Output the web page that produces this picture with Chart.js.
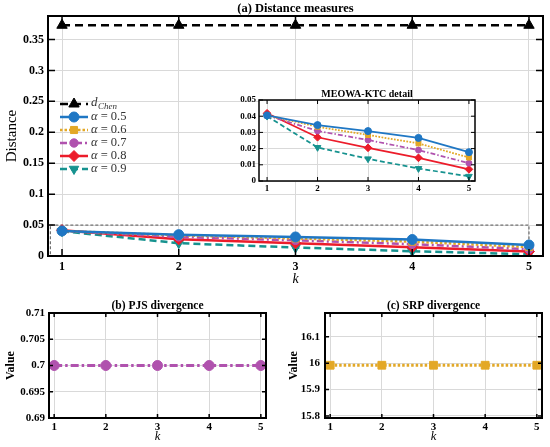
<!DOCTYPE html>
<html>
<head>
<meta charset="utf-8">
<script src="https://cdn.jsdelivr.net/npm/chart.js@4.4.1/dist/chart.umd.min.js"></script>
<style>
html,body{margin:0;padding:0;background:#fff;}
body{width:550px;height:447px;position:relative;overflow:hidden;}
.box{position:absolute;}
</style>
</head>
<body>
<div class="box" style="left:0;top:0;width:550px;height:290px"><canvas id="mainChart"></canvas></div>
<div class="box" style="left:220px;top:84px;width:262px;height:112px"><canvas id="insetChart"></canvas></div>
<div class="box" style="left:0;top:290px;width:275px;height:157px"><canvas id="pjsChart"></canvas></div>
<div class="box" style="left:275px;top:290px;width:275px;height:157px"><canvas id="srpChart"></canvas></div>
<script>
// ---------------- DATA ----------------
const kValues = [1, 2, 3, 4, 5];
const dChen   = [0.373, 0.373, 0.373, 0.373, 0.373];
const alpha05 = [0.0405, 0.0345, 0.0308, 0.0266, 0.0178];
const alpha06 = [0.0405, 0.0335, 0.0284, 0.0232, 0.0145];
const alpha07 = [0.0405, 0.0309, 0.0253, 0.0191, 0.0110];
const alpha08 = [0.0418, 0.0270, 0.0205, 0.0143, 0.0072];
const alpha09 = [0.0400, 0.0207, 0.0137, 0.0077, 0.0029];
const pjsValues = [0.7, 0.7, 0.7, 0.7, 0.7];
const srpValues = [15.992, 15.992, 15.992, 15.992, 15.992];

const alphaLabels = ['0.5', '0.6', '0.7', '0.8', '0.9'];
const mainYTicks  = [0, 0.05, 0.1, 0.15, 0.2, 0.25, 0.3, 0.35];
const insetYTicks = [0, 0.01, 0.02, 0.03, 0.04, 0.05];
const pjsYTicks   = [0.69, 0.695, 0.7, 0.705, 0.71];
const srpYTicks   = [15.8, 15.9, 16, 16.1];

const mainTitle  = '(a) Distance measures';
const insetTitle = 'MEOWA-KTC detail';
const pjsTitle   = '(b) PJS divergence';
const srpTitle   = '(c) SRP divergence';
const mainYLabel = 'Distance';
const valueLabel = 'Value';
const kLabel     = 'k';

// ---------------- STYLES ----------------
const SERIF = "'Liberation Serif','DejaVu Serif','Times New Roman',serif";
Chart.defaults.font.family = SERIF;
Chart.defaults.color = '#000';

const chenStyle = {color:'#000000', dash:[8,5], point:'triangle', rot:0, r:6, lw:2.5};
const alphaStyles = [
  {color:'#1f77c4', dash:[],          point:'circle',   rot:0,   r:5,   lw:2.5},
  {color:'#e3a826', dash:[2.5,2],     point:'rect',     rot:0,   r:5,   lw:2.5},
  {color:'#b052ae', dash:[7,3,2,3],   point:'circle',   rot:0,   r:4.2, lw:2.5},
  {color:'#ec1c2a', dash:[],          point:'rectRot',  rot:0,   r:5.5, lw:2.5},
  {color:'#16928f', dash:[7,4],       point:'triangle', rot:180, r:5.5, lw:2.5}
];
const alphaSeries = [alpha05, alpha06, alpha07, alpha08, alpha09];

function makeDataset(values, st, s) {
  return {
    data: kValues.map((k, i) => ({x: k, y: values[i]})),
    borderColor: st.color, backgroundColor: st.color,
    borderWidth: st.lw * s, borderDash: st.dash.map(d => d * s),
    pointStyle: st.point, pointRotation: st.rot, pointRadius: st.r * s,
    pointBorderWidth: 1, pointBackgroundColor: st.color, pointBorderColor: st.color,
    pointHoverRadius: st.r * s, tension: 0, fill: false
  };
}
const fmt = v => String(+Number(v).toFixed(4));

// ---------------- PLUGINS ----------------
const framePlugin = {
  id: 'frame',
  beforeDraw(chart, args, o) {
    if (!o.fill) return;
    const a = chart.chartArea, ctx = chart.ctx;
    ctx.save(); ctx.fillStyle = '#fff';
    ctx.fillRect(a.left, a.top, a.right - a.left, a.bottom - a.top);
    ctx.restore();
  },
  afterDraw(chart, args, o) {
    const {ctx, chartArea: a, scales: {x, y}} = chart;
    ctx.save();
    ctx.setLineDash([]);
    ctx.strokeStyle = '#000';
    ctx.lineWidth = o.tickWidth;
    ctx.beginPath();
    x.ticks.forEach(t => {
      const p = x.getPixelForValue(t.value);
      ctx.moveTo(p, a.bottom); ctx.lineTo(p, a.bottom - o.tickLen);
      ctx.moveTo(p, a.top); ctx.lineTo(p, a.top + o.tickLen);
    });
    y.ticks.forEach(t => {
      const p = y.getPixelForValue(t.value);
      ctx.moveTo(a.left, p); ctx.lineTo(a.left + o.tickLen, p);
      ctx.moveTo(a.right, p); ctx.lineTo(a.right - o.tickLen, p);
    });
    ctx.stroke();
    ctx.lineWidth = o.borderWidth;
    ctx.strokeRect(a.left, a.top, a.right - a.left, a.bottom - a.top);
    ctx.restore();
  }
};

const panelTitlePlugin = {
  id: 'panelTitle',
  afterDraw(chart, args, o) {
    const {ctx, chartArea: a} = chart;
    ctx.save();
    ctx.font = o.font;
    ctx.fillStyle = '#000';
    ctx.textAlign = 'center';
    ctx.textBaseline = 'middle';
    ctx.fillText(o.text, (a.left + a.right) / 2, o.y);
    ctx.restore();
  }
};

const zoomBoxPlugin = {
  id: 'zoomBox',
  beforeDatasetsDraw(chart, args, o) {
    const {ctx, scales: {x, y}} = chart;
    const x0 = x.getPixelForValue(o.x0), x1 = x.getPixelForValue(o.x1);
    const y0 = y.getPixelForValue(o.y0), y1 = y.getPixelForValue(o.y1);
    ctx.save();
    ctx.strokeStyle = '#555';
    ctx.lineWidth = 1;
    ctx.setLineDash([3, 2]);
    ctx.strokeRect(x0, y1, x1 - x0, y0 - y1);
    ctx.restore();
  }
};

const mainLegendPlugin = {
  id: 'mainLegend',
  afterDraw(chart, args, o) {
    const {ctx, chartArea: a} = chart;
    const x0 = a.left + o.dx, x1 = x0 + o.len, cx = (x0 + x1) / 2, tx = x1 + 3;
    const entries = [chenStyle].concat(alphaStyles);
    ctx.save();
    entries.forEach((st, i) => {
      const cy = a.top + o.dy + i * o.step;
      ctx.strokeStyle = st.color; ctx.fillStyle = st.color;
      ctx.lineWidth = st.lw;
      ctx.setLineDash(st.dash);
      ctx.beginPath(); ctx.moveTo(x0, cy); ctx.lineTo(x1, cy); ctx.stroke();
      ctx.setLineDash([]);
      ctx.lineWidth = 1;
      Chart.helpers.drawPoint(ctx, {pointStyle: st.point, rotation: st.rot, radius: st.r, borderWidth: 1}, cx, cy);
      ctx.fillStyle = '#333';
      ctx.textBaseline = 'middle';
      ctx.textAlign = 'left';
      if (i === 0) {
        ctx.font = 'italic 13px ' + SERIF;
        ctx.fillText('d', tx, cy - 1);
        const w = ctx.measureText('d').width;
        ctx.font = 'italic 9px ' + SERIF;
        ctx.fillText('Chen', tx + w + 0.5, cy + 3);
      } else {
        ctx.font = 'italic 12.5px ' + SERIF;
        ctx.fillText('α', tx, cy);
        const w = ctx.measureText('α').width;
        ctx.font = '12.5px ' + SERIF;
        ctx.fillText(' = ' + alphaLabels[i - 1], tx + w, cy);
      }
    });
    ctx.restore();
  }
};

// ---------------- BUILDER ----------------
function buildChart(id, c) {
  const gridOpts = {color: '#d9d9d9', lineWidth: 1, drawTicks: false};
  return new Chart(document.getElementById(id), {
    type: 'line',
    data: {datasets: c.datasets},
    options: {
      responsive: true, maintainAspectRatio: false, animation: false,
      events: [],
      layout: {padding: {top: c.padTop, right: c.padRight, left: 0, bottom: 0}},
      plugins: {
        legend: {display: false}, tooltip: {enabled: false},
        frame: c.frame,
        panelTitle: c.title,
        zoomBox: c.zoomBox || {},
        mainLegend: c.legend || {}
      },
      scales: {
        x: {
          type: 'linear', min: c.xMin, max: c.xMax,
          afterBuildTicks: s => { s.ticks = kValues.map(v => ({value: v})); },
          afterFit: s => { s.height = c.xHeight; },
          grid: gridOpts, border: {display: false},
          ticks: {font: {size: c.tickSize, weight: 'bold'}, color: '#000', padding: c.xTickPad,
                  autoSkip: false, maxRotation: 0, callback: v => fmt(v)},
          title: c.xTitle ? {display: true, text: kLabel, color: '#000',
                  font: {size: c.xTitle.size, style: 'italic'}, padding: {top: 0, bottom: c.xTitle.pad}} : {display: false}
        },
        y: {
          type: 'linear', min: c.yMin, max: c.yMax,
          afterBuildTicks: s => { s.ticks = c.yTicks.map(v => ({value: v})); },
          afterFit: s => { s.width = c.yWidth; },
          grid: gridOpts, border: {display: false},
          ticks: {font: {size: c.tickSize, weight: 'bold'}, color: '#000', padding: c.yTickPad,
                  autoSkip: false, callback: v => fmt(v)},
          title: c.yTitle ? {display: true, text: c.yTitle.text, color: '#000',
                  font: {size: c.yTitle.size, weight: c.yTitle.weight}, padding: {top: c.yTitle.pad, bottom: 0}} : {display: false}
        }
      }
    },
    plugins: [framePlugin, panelTitlePlugin].concat(c.extra || [])
  });
}

// ---------------- MAIN ----------------
buildChart('mainChart', {
  datasets: [makeDataset(dChen, chenStyle, 1)].concat(alphaSeries.map((v, i) => makeDataset(v, alphaStyles[i], 1))),
  padTop: 16, padRight: 6, xHeight: 34, yWidth: 48,
  xMin: 0.88, xMax: 5.12, yMin: 0, yMax: 0.388, yTicks: mainYTicks,
  tickSize: 12, xTickPad: 4, yTickPad: 4,
  xTitle: {size: 14, pad: 2},
  yTitle: {text: mainYLabel, size: 15, weight: 'normal', pad: 3},
  frame: {tickLen: 7, tickWidth: 1.5, borderWidth: 2},
  title: {text: mainTitle, font: 'bold 12.5px ' + SERIF, y: 9},
  zoomBox: {x0: 0.9, x1: 5, y0: 0, y1: 0.05},
  legend: {dx: 12, len: 28, dy: 88, step: 13},
  extra: [zoomBoxPlugin, mainLegendPlugin]
});

// ---------------- INSET ----------------
buildChart('insetChart', {
  datasets: alphaSeries.map((v, i) => makeDataset(v, alphaStyles[i], 0.7)),
  padTop: 16, padRight: 7, xHeight: 15, yWidth: 39,
  xMin: 0.84, xMax: 5.12, yMin: 0, yMax: 0.05, yTicks: insetYTicks,
  tickSize: 9, xTickPad: 2, yTickPad: 3,
  frame: {tickLen: 4, tickWidth: 1, borderWidth: 1.5, fill: true},
  title: {text: insetTitle, font: 'bold 10px ' + SERIF, y: 10}
});

// ---------------- PJS ----------------
buildChart('pjsChart', {
  datasets: [makeDataset(pjsValues, Object.assign({}, alphaStyles[2], {r: 5, lw: 3, dash: [8, 3, 2.5, 3]}), 1)],
  padTop: 23, padRight: 9, xHeight: 29, yWidth: 49,
  xMin: 0.9, xMax: 5.1, yMin: 0.69, yMax: 0.71, yTicks: pjsYTicks,
  tickSize: 11, xTickPad: 3, yTickPad: 4,
  xTitle: {size: 12.5, pad: 3},
  yTitle: {text: valueLabel, size: 12, weight: 'bold', pad: 4},
  frame: {tickLen: 4, tickWidth: 1.5, borderWidth: 2},
  title: {text: pjsTitle, font: 'bold 11.5px ' + SERIF, y: 16}
});

// ---------------- SRP ----------------
buildChart('srpChart', {
  datasets: [makeDataset(srpValues, Object.assign({}, alphaStyles[1], {r: 5.5, lw: 3, dash: [2.5, 2]}), 1)],
  padTop: 23, padRight: 8, xHeight: 29, yWidth: 50,
  xMin: 0.9, xMax: 5.1, yMin: 15.792, yMax: 16.19, yTicks: srpYTicks,
  tickSize: 11, xTickPad: 3, yTickPad: 5,
  xTitle: {size: 12.5, pad: 3},
  yTitle: {text: valueLabel, size: 12, weight: 'bold', pad: 12},
  frame: {tickLen: 4, tickWidth: 1.5, borderWidth: 2},
  title: {text: srpTitle, font: 'bold 11.5px ' + SERIF, y: 16}
});
</script>
</body>
</html>
